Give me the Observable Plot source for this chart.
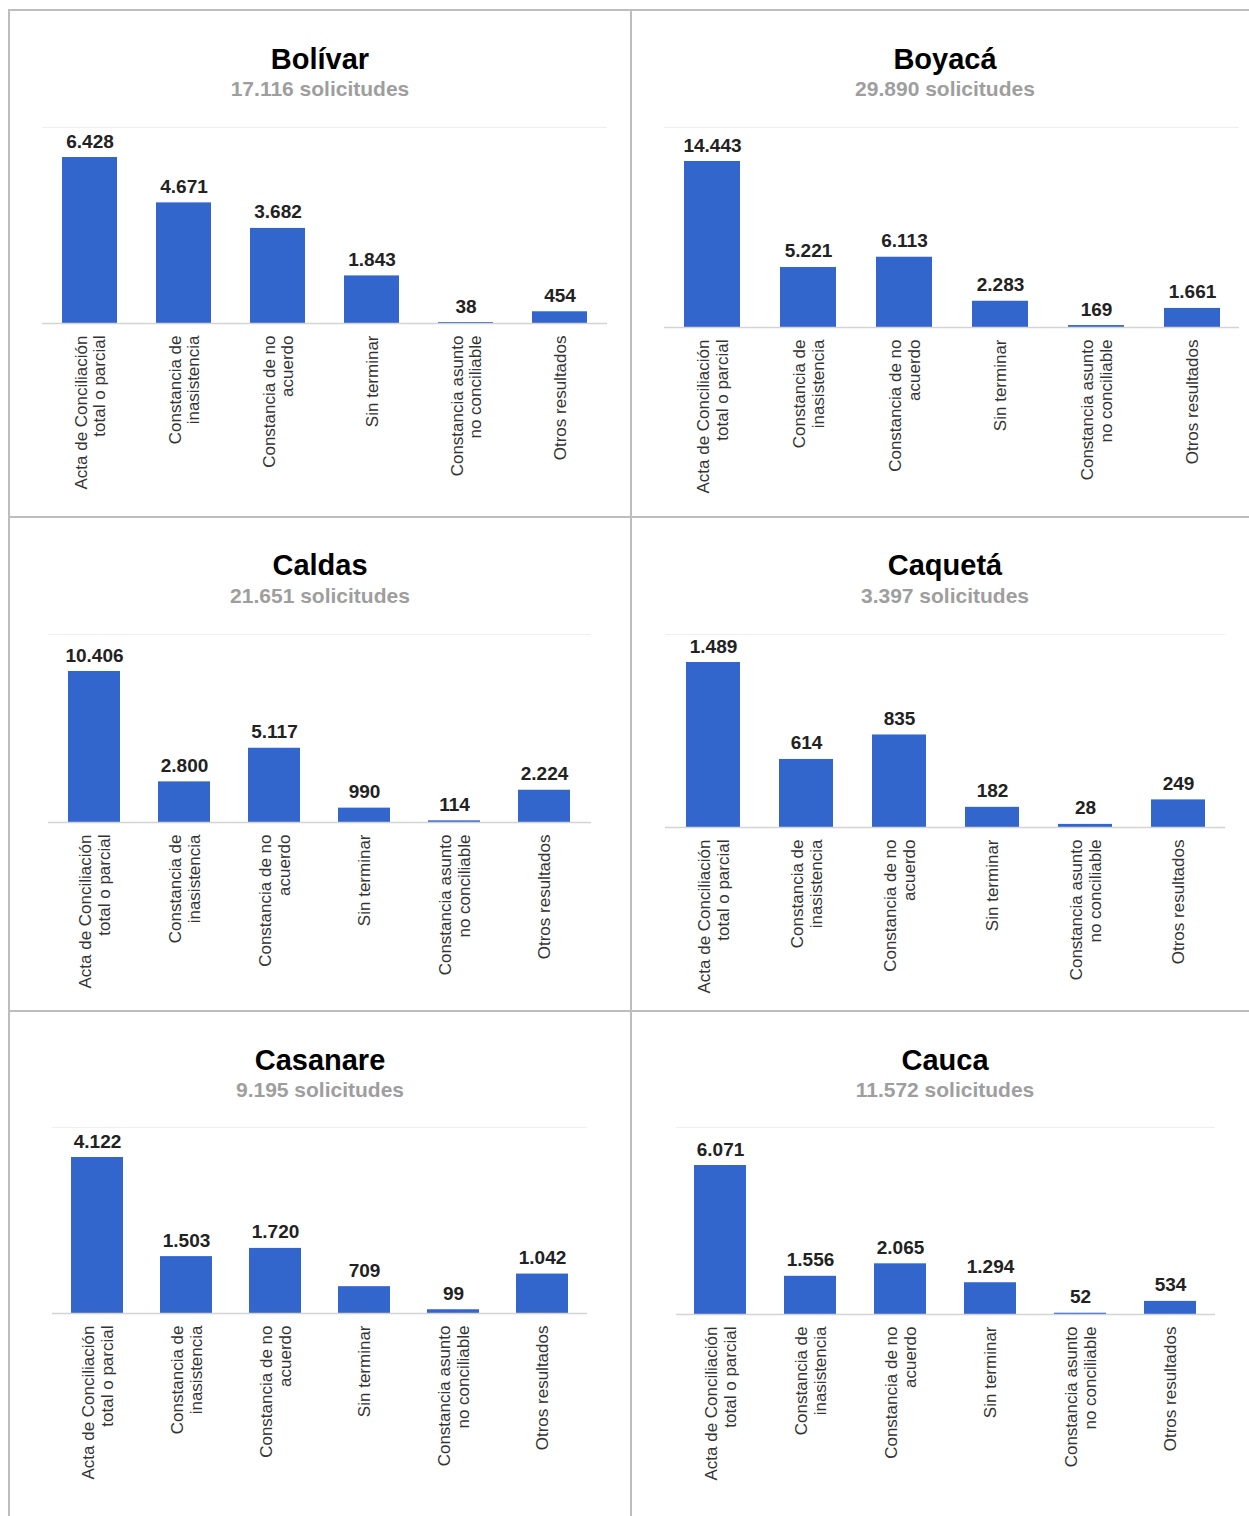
<!DOCTYPE html>
<html>
<head>
<meta charset="utf-8">
<script src="https://cdn.jsdelivr.net/npm/d3@7"></script>
<script src="https://cdn.jsdelivr.net/npm/@observablehq/plot@0.6"></script>
<style>
  html, body { margin: 0; padding: 0; background: #fff; }
  body { width: 1249px; height: 1516px; position: relative; overflow: hidden;
         font-family: Arial, "Liberation Sans", Helvetica, sans-serif; }
  .hline, .vline { position: absolute; background: #bdbdbd; }
  .title { position: absolute; font-weight: bold; color: #000; line-height: 1; white-space: nowrap; transform: translateX(-50%); }
  .subtitle { position: absolute; font-weight: bold; color: #9e9e9e; line-height: 1; white-space: nowrap; transform: translateX(-50%); }
  .topline { position: absolute; height: 1px; background: #efefef; }
  .chart { position: absolute; }
</style>
</head>
<body>
<script>
// ---------------- DATA ----------------
const categories = ["acta", "inasistencia", "noacuerdo", "sinterminar", "noconciliable", "otros"];
const tickLabels = [
  "Acta de Conciliación\ntotal o parcial",
  "Constancia de\ninasistencia",
  "Constancia de no\nacuerdo",
  "Sin terminar",
  "Constancia asunto\nno conciliable",
  "Otros resultados"
];
const departments = ["Bolívar", "Boyacá", "Caldas", "Caquetá", "Casanare", "Cauca"];
const totals = [17116, 29890, 21651, 3397, 9195, 11572];
const bolivar  = [6428, 4671, 3682, 1843, 38, 454];
const boyaca   = [14443, 5221, 6113, 2283, 169, 1661];
const caldas   = [10406, 2800, 5117, 990, 114, 2224];
const caqueta  = [1489, 614, 835, 182, 28, 249];
const casanare = [4122, 1503, 1720, 709, 99, 1042];
const cauca    = [6071, 1556, 2065, 1294, 52, 534];
const seriesValues = [bolivar, boyaca, caldas, caqueta, casanare, cauca];

// ---------------- LAYOUT ----------------
const FONT = 'Arial, "Liberation Sans", Helvetica, sans-serif';
const BAR_COLOR = "#3366cc";
// cell boxes and chart geometry (pixels)
const layouts = [
  {cl: 10,  cr: 630,  ct: 11,   cb: 516,  cx: 320, titleY: 59,   subY: 88,   x0: 42,  x1: 607,  base: 323,  maxTop: 157,  gridTop: 127},
  {cl: 632, cr: 1249, ct: 11,   cb: 516,  cx: 945, titleY: 59,   subY: 88,   x0: 664, x1: 1239, base: 327,  maxTop: 161,  gridTop: 127},
  {cl: 10,  cr: 630,  ct: 518,  cb: 1010, cx: 320, titleY: 565,  subY: 595,  x0: 48,  x1: 591,  base: 822,  maxTop: 671,  gridTop: 634},
  {cl: 632, cr: 1249, ct: 518,  cb: 1010, cx: 945, titleY: 565,  subY: 595,  x0: 665, x1: 1225, base: 827,  maxTop: 662,  gridTop: 634},
  {cl: 10,  cr: 630,  ct: 1012, cb: 1516, cx: 320, titleY: 1060, subY: 1089, x0: 52,  x1: 587,  base: 1313, maxTop: 1157, gridTop: 1127},
  {cl: 632, cr: 1249, ct: 1012, cb: 1516, cx: 945, titleY: 1060, subY: 1089, x0: 676, x1: 1215, base: 1314, maxTop: 1165, gridTop: 1127}
];
const TITLE_FS = 29, SUB_FS = 21, VALUE_FS = 19, TICK_FS = 17;

const esLocale = d3.formatLocale({decimal: ",", thousands: ".", grouping: [3], currency: ["$", ""]});
const fmt = esLocale.format(",d");
const labelOf = Object.fromEntries(categories.map((c, i) => [c, tickLabels[i]]));

// table borders
function addLine(cls, style) {
  const d = document.createElement("div");
  d.className = cls;
  Object.assign(d.style, style);
  document.body.appendChild(d);
}
addLine("hline", {left: "8px", top: "9px", width: "1241px", height: "2px"});
addLine("hline", {left: "8px", top: "516px", width: "1241px", height: "2px"});
addLine("hline", {left: "8px", top: "1010px", width: "1241px", height: "2px"});
addLine("vline", {left: "8px", top: "9px", width: "2px", height: "1507px"});
addLine("vline", {left: "630px", top: "9px", width: "2px", height: "1507px"});

departments.forEach((dep, i) => {
  const L = layouts[i];
  const values = seriesValues[i];
  const data = categories.map((c, j) => ({cat: c, value: values[j]}));
  const maxVal = d3.max(values);

  const t = document.createElement("div");
  t.className = "title";
  t.textContent = dep;
  t.style.fontSize = TITLE_FS + "px";
  t.style.left = L.cx + "px";
  t.style.top = (L.titleY - 0.49 * TITLE_FS) + "px";
  document.body.appendChild(t);

  const s = document.createElement("div");
  s.className = "subtitle";
  s.textContent = fmt(totals[i]) + " solicitudes";
  s.style.fontSize = SUB_FS + "px";
  s.style.left = L.cx + "px";
  s.style.top = (L.subY - 0.49 * SUB_FS) + "px";
  document.body.appendChild(s);

  addLine("topline", {left: L.x0 + "px", width: (L.x1 - L.x0) + "px", top: L.gridTop + "px"});

  const svgTop = L.gridTop - 10;
  const height = L.cb - svgTop;
  const width = L.cr - L.cl;
  const chart = Plot.plot({
    width, height,
    marginTop: L.maxTop - svgTop,
    marginBottom: svgTop + height - L.base,
    marginLeft: L.x0 - L.cl,
    marginRight: L.cr - L.x1,
    style: {fontFamily: FONT, background: "transparent", overflow: "visible", color: "#222"},
    x: {domain: categories, paddingInner: 0.42, paddingOuter: 0.2, axis: null},
    y: {domain: [0, maxVal], axis: null},
    marks: [
      Plot.barY(data, {x: "cat", y: "value", fill: BAR_COLOR}),
      Plot.ruleY([0], {stroke: "#d4d4d4", strokeWidth: 1.5}),
      Plot.text(data, {x: "cat", y: "value", text: d => fmt(d.value), dy: -10, lineAnchor: "bottom",
                       fontSize: VALUE_FS, fontWeight: "bold", fill: "#222"}),
      Plot.axisX({anchor: "bottom", tickRotate: -90, tickSize: 0, tickPadding: 12,
                  tickFormat: c => labelOf[c], fontSize: TICK_FS, lineHeight: 1.08,
                  textAnchor: "end", lineAnchor: "middle", fill: "#333", label: null})
    ]
  });
  const wrap = document.createElement("div");
  wrap.className = "chart";
  wrap.style.left = L.cl + "px";
  wrap.style.top = svgTop + "px";
  wrap.appendChild(chart);
  document.body.appendChild(wrap);
});
</script>
</body>
</html>
